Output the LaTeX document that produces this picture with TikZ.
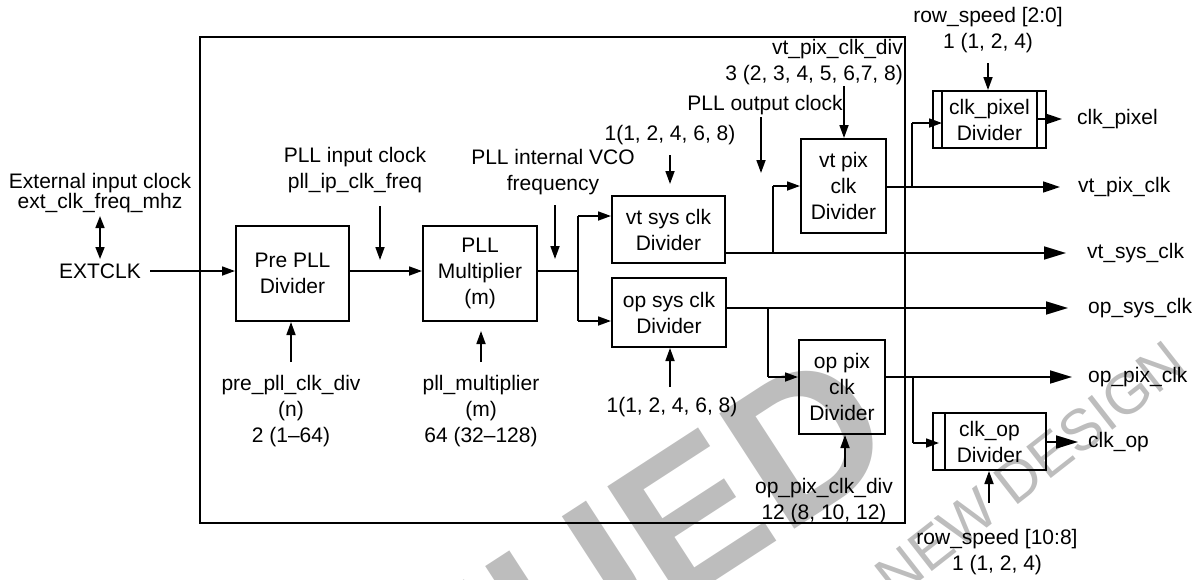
\documentclass[tikz,border=0pt]{standalone}
\usepackage{fontspec}
\setmainfont{Liberation Sans}
\usetikzlibrary{arrows.meta}
\begin{document}
\begin{tikzpicture}[x=1pt,y=-1pt,
  font=\fontsize{21}{26}\selectfont,
  box/.style={draw,line width=2pt,align=center,inner sep=0pt},
  lbl/.style={align=center,inner sep=0pt},
  ln/.style={line width=1.7pt},
  arr/.style={ln,-{Triangle[length=13pt,width=9pt]}},
  marr/.style={ln,-{Triangle[length=17pt,width=11pt]}},
  oarr/.style={ln,-{Triangle[length=22pt,width=13pt]}},
  darr/.style={ln,{Triangle[length=12pt,width=9pt]}-{Triangle[length=12pt,width=9pt]}},
  wm/.style={text=black!26,inner sep=0pt}]
\useasboundingbox (0,0) rectangle (1197,579);
% watermark
\begin{scope}
\clip (0,0) rectangle (1197,579);
\node[wm,rotate=33,anchor=base east,font=\fontsize{200}{200}\selectfont\bfseries] (wm1) at (905,458) {DISCONTINUED};
\node[wm,rotate=38,anchor=base east,font=\fontsize{58}{58}\selectfont] (wm2) at (1190,370) {NOT RECOMMENDED FOR NEW DESIGN};
\end{scope}
% outer frame
\node[draw,line width=1.5pt,inner sep=0pt,minimum width=705pt,minimum height=486pt] (outer) at (552.5,280) {};
% blocks
\node[box,minimum width=113pt,minimum height=95pt] (pre) at (292.5,273.5) {Pre PLL\\Divider};
\node[box,minimum width=114pt,minimum height=95pt] (mult) at (480,273.5) {PLL\\Multiplier\\(m)};
\node[box,minimum width=113pt,minimum height=67pt] (vtsys) at (668.5,229.5) {vt sys clk\\Divider};
\node[box,minimum width=114pt,minimum height=69pt] (opsys) at (669,312.5) {op sys clk\\Divider};
\node[box,minimum width=85pt,minimum height=94pt] (vtpix) at (843.5,186) {vt pix\\clk\\Divider};
\node[box,minimum width=86pt,minimum height=94pt] (oppix) at (842,387) {op pix\\clk\\Divider};
\node[box,minimum width=113pt,minimum height=57pt] (clkpix) at (989.5,119.5) {clk\_pixel\\Divider};
\node[box,minimum width=113pt,minimum height=57pt] (clkop) at (989.5,441.5) {clk\_op\\Divider};
\draw[line width=1.5pt] ([xshift=10pt]clkpix.north west) -- ([xshift=10pt]clkpix.south west);
\draw[line width=1.5pt] ([xshift=-10pt]clkpix.north east) -- ([xshift=-10pt]clkpix.south east);
\draw[line width=1.5pt] ([xshift=13pt]clkop.north west) -- ([xshift=13pt]clkop.south west);
% labels
\node[lbl,font=\fontsize{21}{20}\selectfont] (extlbl) at (100,193) {External input clock\\ext\_clk\_freq\_mhz};
\node[lbl] (extclk) at (100,271) {EXTCLK};
\node[lbl] (pllin) at (355,170) {PLL input clock\\pll\_ip\_clk\_freq};
\node[lbl] (vco) at (553,172.5) {PLL internal VCO\\frequency};
\node[lbl] (vtsysp) at (670,135) {1(1, 2, 4, 6, 8)};
\node[lbl] (pllout) at (765,105) {PLL output clock};
\node[lbl,align=right,anchor=east] (vtpixp) at (903,62.5) {vt\_pix\_clk\_div\\3 (2, 3, 4, 5, 6,7, 8)};
\node[lbl] (rst) at (988,30) {row\_speed [2:0]\\1 (1, 2, 4)};
\node[lbl,anchor=west] (oclkpix) at (1077,119) {clk\_pixel};
\node[lbl,anchor=west] (ovtpix) at (1078,187) {vt\_pix\_clk};
\node[lbl,anchor=west] (ovtsys) at (1087,253) {vt\_sys\_clk};
\node[lbl,anchor=west] (oopsys) at (1088,308) {op\_sys\_clk};
\node[lbl,anchor=west] (ooppix) at (1088,377) {op\_pix\_clk};
\node[lbl,anchor=west] (oclkop) at (1088,442) {clk\_op};
\node[lbl] (prep) at (291,411.5) {pre\_pll\_clk\_div\\(n)\\2 (1–64)};
\node[lbl] (multp) at (481,411.5) {pll\_multiplier\\(m)\\64 (32–128)};
\node[lbl] (opsysp) at (672,407) {1(1, 2, 4, 6, 8)};
\node[lbl] (oppixp) at (824,501.5) {op\_pix\_clk\_div\\12 (8, 10, 12)};
\node[lbl] (rsb) at (997,552) {row\_speed [10:8]\\1 (1, 2, 4)};
% junction coordinates
\coordinate (ea1) at (100,216);
\coordinate (ea2) at (100,259);
\coordinate (split) at (578,271);
\coordinate (sv1) at (578,216);
\coordinate (sv2) at (578,321);
\coordinate (b1) at (773,253);
\coordinate (b1t) at (773,186);
\coordinate (b2) at (912,187);
\coordinate (b2t) at (912,123);
\coordinate (b3) at (768,308);
\coordinate (b3b) at (768,377);
\coordinate (b4) at (913,377);
\coordinate (b4b) at (913,443);
\coordinate (pinA) at (380,206);
\coordinate (vcoA) at (555,205);
\coordinate (vsA) at (670,155);
\coordinate (poA) at (761,117);
\coordinate (poB) at (761,173);
\coordinate (vpA) at (844,86);
\coordinate (rsA) at (988,63);
\coordinate (ppA) at (291,362);
\coordinate (pmA) at (481,362);
\coordinate (osA) at (670,387);
\coordinate (opA) at (845,467);
\coordinate (rbA) at (989,503);
% connectors
\draw[darr] (ea1) -- (ea2);
\draw[arr] ([xshift=9pt]extclk.east) -- (extclk.east -| pre.west);
\draw[arr] (pre.east |- extclk) -- (mult.west |- extclk);
\draw[ln] (mult.east |- split) -- (split);
\draw[ln] (sv1) -- (sv2);
\draw[arr] (sv1) -- (sv1 -| vtsys.west);
\draw[arr] (sv2) -- (sv2 -| opsys.west);
\draw[oarr,shorten >=21pt] (vtsys.east |- ovtsys.west) -- (ovtsys.west);
\draw[ln] (b1) -- (b1t);
\draw[arr] (b1t) -- (b1t -| vtpix.west);
\draw[marr,shorten >=18pt] (vtpix.east |- ovtpix.west) -- (ovtpix.west);
\draw[ln] (b2) -- (b2t);
\draw[arr] (b2t) -- ([xshift=10pt]b2t -| clkpix.west);
\draw[marr,shorten >=15pt] ([xshift=-10pt]clkpix.east |- oclkpix.west) -- (oclkpix.west);
\draw[oarr,shorten >=20pt] (opsys.east |- oopsys.west) -- (oopsys.west);
\draw[ln] (b3) -- (b3b);
\draw[arr] (b3b) -- (b3b -| oppix.west);
\draw[oarr,shorten >=16pt] (oppix.east |- ooppix.west) -- (ooppix.west);
\draw[ln] (b4) -- (b4b);
\draw[arr] (b4b) -- ([xshift=7pt]b4b -| clkop.west);
\draw[oarr,shorten >=10pt] (clkop.east |- oclkop.west) -- (oclkop.west);
% parameter arrows
\draw[arr,shorten >=11pt] (pinA) -- (pinA |- extclk);
\draw[arr,shorten >=12pt] (vcoA) -- (vcoA |- extclk);
\draw[arr,shorten >=11pt] (vsA) -- (vsA |- vtsys.north);
\draw[arr] (poA) -- (poB);
\draw[arr] (vpA) -- (vpA |- vtpix.north);
\draw[arr] (rsA) -- (rsA |- clkpix.north);
\draw[arr] (ppA) -- (ppA |- pre.south);
\draw[arr,shorten >=9pt] (pmA) -- (pmA |- mult.south);
\draw[arr] (osA) -- (osA |- opsys.south);
\draw[arr] (opA) -- (opA |- oppix.south);
\draw[arr] (rbA) -- (rbA |- clkop.south);
\end{tikzpicture}
\end{document}
